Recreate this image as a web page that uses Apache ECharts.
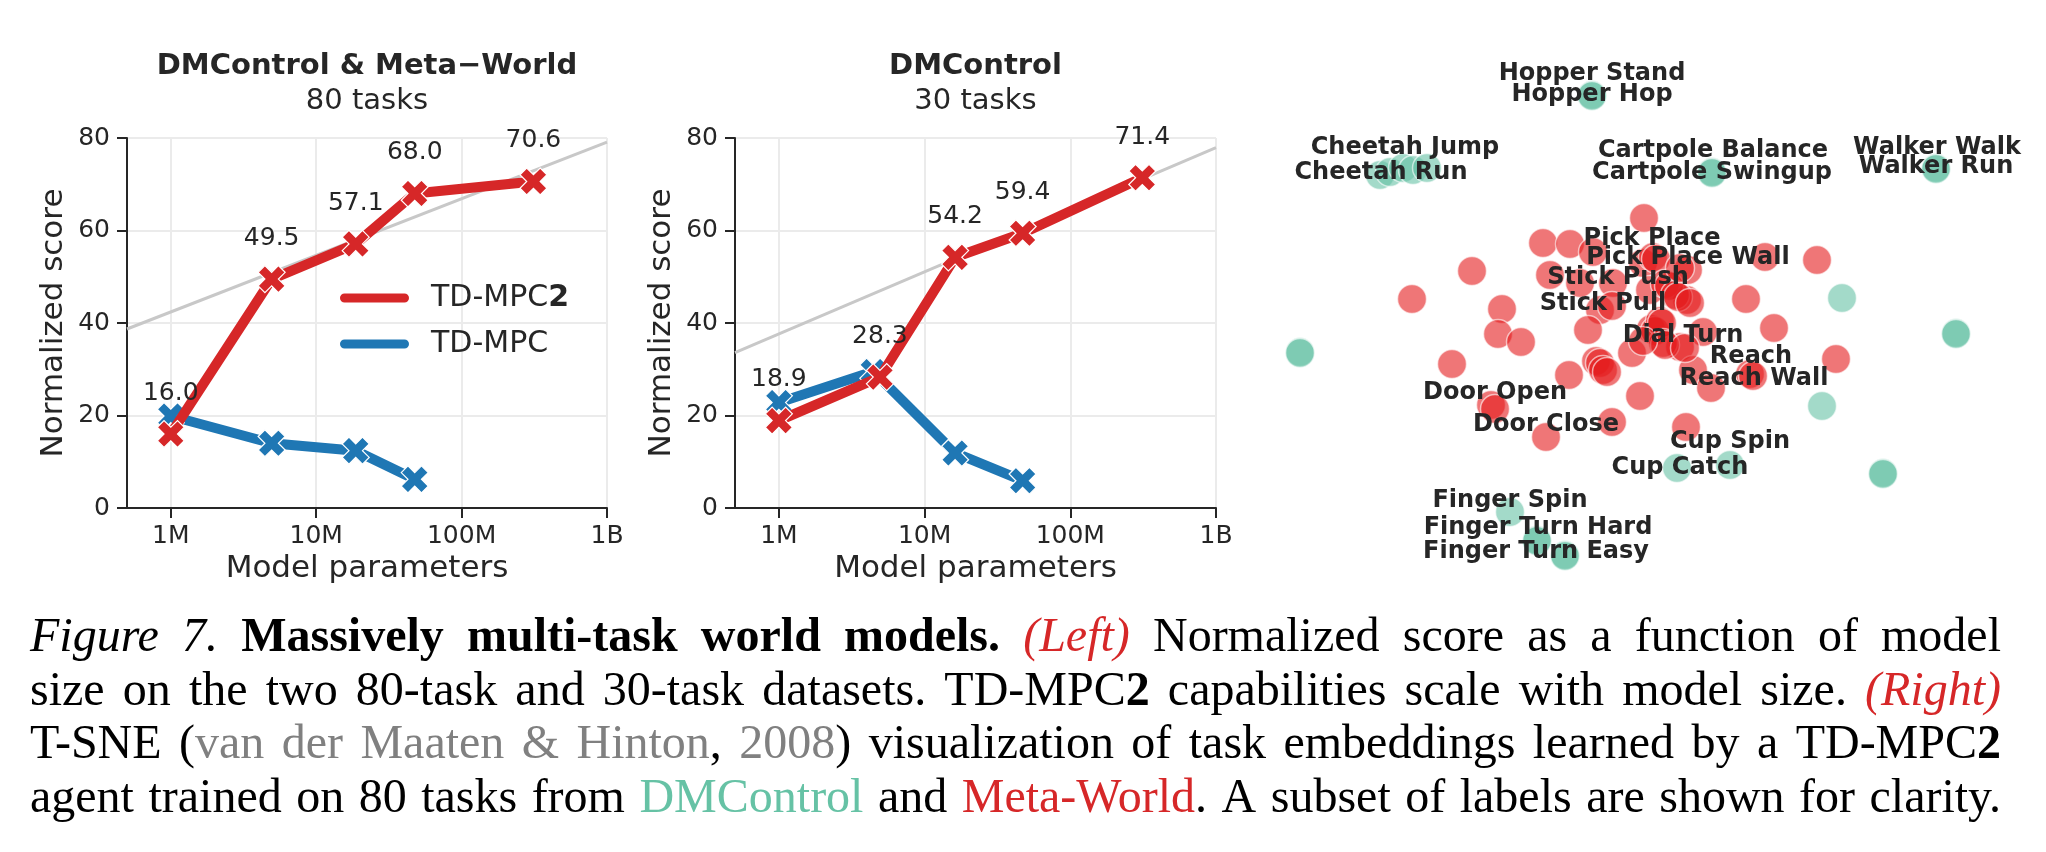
<!DOCTYPE html>
<html><head><meta charset="utf-8">
<script src="https://cdn.jsdelivr.net/npm/echarts@6/dist/echarts.min.js"></script>
<style>html,body{margin:0;padding:0;background:#fff}#c{width:2046px;height:852px}</style>
</head><body><div id="c"></div>
<script>
// ---------------- DATA ----------------
const xTickValues = [1e6, 1e7, 1e8, 1e9];
const xTickLabels = ['1M', '10M', '100M', '1B'];
const xMin = 5e5, xMax = 1e9;
const yMin = 0, yMax = 80, yStep = 20;

const panelTitles = ['DMControl & Meta\u2212World', 'DMControl'];
const panelSubtitles = ['80 tasks', '30 tasks'];
const seriesNames = ['TD-MPC2', 'TD-MPC'];

// Left panel (80 tasks)
const left_tdmpc2_params = [1.0e6, 4.94e6, 1.87e7, 4.76e7, 3.12e8];
const left_tdmpc2_scores = [16.0, 49.5, 57.1, 68.0, 70.6];
const left_tdmpc_params  = [1.0e6, 4.94e6, 1.87e7, 4.76e7];
const left_tdmpc_scores  = [19.9, 14.0, 12.4, 6.2];
const left_trend_params  = [5e5, 1e9];
const left_trend_scores  = [38.7, 79.1];

// Middle panel (30 tasks)
const mid_tdmpc2_params = [1.0e6, 4.94e6, 1.62e7, 4.71e7, 3.12e8];
const mid_tdmpc2_scores = [18.9, 28.3, 54.2, 59.4, 71.4];
const mid_tdmpc_params  = [1.0e6, 4.45e6, 1.62e7, 4.71e7];
const mid_tdmpc_scores  = [22.8, 29.5, 11.9, 5.9];
const mid_trend_params  = [5e5, 1e9];
const mid_trend_scores  = [33.6, 77.9];

// T-SNE embedding (arbitrary units)
const metaworld_x = [-1.6,-11.7,-9.0,-6.7,-18.8,-11.0,-24.8,-15.8,-8.0,-4.7,-6.0,-1.7,-0.7,-0.4,-1.0,10.5,15.7,8.6,2.8,2.7,0.5,0.9,4.3,11.4,-16.2,-13.9,-20.8,-7.2,-2.8,-6.4,-6.0,-5.7,-9.1,-2.0,-16.9,-16.5,-4.8,-11.4,-0.9,-0.5,2.0,3.3,17.6,9.0,9.3,5.1,2.6,1.5,1.8,3.0,-4.8,0.0,0.2,0.3,0.5,-1.7,2.5,-5.3,2.0];
const metaworld_y = [10.2,7.7,7.6,6.8,4.9,4.5,2.1,1.1,3.7,3.7,1.0,5.7,6.3,6.1,3.0,6.3,6.0,2.1,5.0,2.0,3.6,3.4,-1.2,-0.8,-1.4,-2.2,-4.4,-1.0,-3.3,-4.1,-4.3,-5.0,-5.5,-7.6,-8.5,-8.9,-10.2,-11.7,-0.9,-1.1,-2.7,-5.0,-3.9,-5.4,-5.6,-6.8,-10.7,2.5,2.3,1.7,1.4,-0.1,-0.3,-2.3,-2.5,-2.1,-2.8,-5.2,5.2];
const dmcontrol_x = [-6.8,-6.8,-28.0,-27.0,-25.7,-24.7,-23.3,5.2,5.2,27.6,27.6,18.2,29.6,29.6,-36.0,-36.0,16.2,22.3,22.3,1.7,7.0,-15.0,-12.3,-12.3,-9.5,-9.5];
const dmcontrol_y = [22.5,22.4,14.5,14.8,15.2,15.0,15.2,14.8,14.7,15.2,15.1,2.2,-1.3,-1.4,-3.2,-3.3,-8.6,-15.3,-15.4,-14.8,-14.5,-19.2,-22.0,-22.1,-23.5,-23.6];
const tsneLabelNames = ['Hopper Stand','Hopper Hop','Cheetah Jump','Cheetah Run','Cartpole Balance','Cartpole Swingup','Walker Walk','Walker Run','Pick Place','Pick Place Wall','Stick Push','Stick Pull','Dial Turn','Reach','Reach Wall','Door Open','Door Close','Cup Spin','Cup Catch','Finger Spin','Finger Turn Hard','Finger Turn Easy'];
const tsneLabelX = [-6.8,-6.8,-25.5,-27.9,5.3,5.2,27.7,27.6,-0.8,2.8,-4.2,-5.7,2.3,9.1,9.4,-16.5,-11.4,7.0,2.0,-15.0,-12.2,-12.4];
const tsneLabelY = [24.6,22.55,17.2,14.7,16.9,14.7,17.2,15.3,8.1,6.2,4.2,1.6,-1.6,-3.7,-5.9,-7.3,-10.5,-12.2,-14.8,-18.1,-20.8,-23.2];

// Caption runs: [text, style]
const CAPTION_LINES = [
  [['Figure 7.', 'i'], [' ', 'n'], ['Massively multi-task world models.', 'b'], [' ', 'n'], ['(Left)', 'ri'], [' Normalized score as a function of model', 'n']],
  [['size on the two 80-task and 30-task datasets. TD-MPC', 'n'], ['2', 'b'], [' capabilities scale with model size. ', 'n'], ['(Right)', 'ri']],
  [['T-SNE (', 'n'], ['van der Maaten & Hinton', 'g'], [', ', 'n'], ['2008', 'g'], [') visualization of task embeddings learned by a TD-MPC', 'n'], ['2', 'b']],
  [['agent trained on 80 tasks from ', 'n'], ['DMControl', 't'], [' and ', 'n'], ['Meta-World', 'r'], ['. A subset of labels are shown for clarity.', 'n']]
];

// ---------------- STYLE ----------------
const FONT = 'DejaVu Sans', SERIF = 'Liberation Serif';
const RED = '#d62728', BLUE = '#1f77b4', TEXT = '#262626', GRIDC = '#ebebeb';
const X_SYMBOL = 'path://M0,2.5L2.5,0L5,2.5L7.5,0L10,2.5L7.5,5L10,7.5L7.5,10L5,7.5L2.5,10L0,7.5L2.5,5Z';
const CAP_STYLES = {
  n: {style: 'normal', weight: 'normal', color: '#000'},
  i: {style: 'italic', weight: 'normal', color: '#000'},
  b: {style: 'normal', weight: 'bold', color: '#000'},
  ri: {style: 'italic', weight: 'normal', color: RED},
  g: {style: 'normal', weight: 'normal', color: '#808080'},
  t: {style: 'normal', weight: 'normal', color: '#66c2a5'},
  r: {style: 'normal', weight: 'normal', color: RED}
};
const CAP_SIZE = 48, CAP_X0 = 30, CAP_X1 = 2001, CAP_BASELINES = [651, 705, 758, 812];

function zip(a, b) { return a.map((v, i) => [v, b[i]]); }
function tickFmt(v) {
  const e = Math.log10(v), r = Math.round(e);
  if (Math.abs(e - r) > 1e-6) return '';
  const idx = xTickValues.findIndex(t => Math.abs(Math.log10(t) - r) < 1e-6);
  return idx >= 0 ? xTickLabels[idx] : '';
}
function xAxisOf(gi) {
  return {
    type: 'log', logBase: 10, gridIndex: gi, min: xMin, max: xMax,
    axisLine: {show: true, onZero: false, lineStyle: {color: TEXT, width: 2}},
    axisTick: {show: true, length: 10, customValues: xTickValues, lineStyle: {color: TEXT, width: 2}},
    axisLabel: {show: true, margin: 16, customValues: xTickValues, formatter: tickFmt, fontSize: 25, fontFamily: FONT, color: TEXT, showMaxLabel: true, showMinLabel: true},
    splitLine: {show: true, lineStyle: {color: GRIDC, width: 2}},
    minorTick: {show: false}, minorSplitLine: {show: false},
    name: 'Model parameters', nameLocation: 'middle', nameGap: 45,
    nameTextStyle: {fontSize: 31, fontFamily: FONT, color: TEXT}
  };
}
function yAxisOf(gi) {
  return {
    type: 'value', gridIndex: gi, min: yMin, max: yMax, interval: yStep,
    axisLine: {show: true, onZero: false, lineStyle: {color: TEXT, width: 2}},
    axisTick: {show: true, length: 10, lineStyle: {color: TEXT, width: 2}},
    axisLabel: {show: true, margin: 17, fontSize: 25, fontFamily: FONT, color: TEXT},
    splitLine: {show: true, lineStyle: {color: GRIDC, width: 2}},
    name: 'Normalized score', nameLocation: 'middle', nameGap: 58,
    nameTextStyle: {fontSize: 31, fontFamily: FONT, color: TEXT}
  };
}
function trendSeries(gi, xs, ys) {
  return {type: 'line', xAxisIndex: gi, yAxisIndex: gi, data: zip(xs, ys), symbol: 'none', silent: true,
    lineStyle: {color: '#c8c8c8', width: 3}, z: 1};
}
function modelSeries(gi, name, color, xs, ys, withLabels) {
  return {
    type: 'line', name, xAxisIndex: gi, yAxisIndex: gi, data: zip(xs, ys),
    color, symbol: X_SYMBOL, symbolSize: 27, showSymbol: true, showAllSymbol: true,
    lineStyle: {color, width: 10, cap: 'round', join: 'round'},
    itemStyle: {color, borderColor: '#fff', borderWidth: 1.2},
    label: withLabels ? {show: true, position: 'top', distance: 14, fontSize: 25, lineHeight: 25,
      fontFamily: FONT, color: TEXT, formatter: p => p.value[1].toFixed(1)} : {show: false},
    emphasis: {disabled: true}, z: name === 'TD-MPC2' ? 4 : 3
  };
}

// ---------------- CAPTION LAYOUT ----------------
function capFont(st) { const s = CAP_STYLES[st]; return `${s.style} ${s.weight} ${CAP_SIZE}px "${SERIF}"`; }
function buildCaption() {
  const ctx = document.createElement('canvas').getContext('2d');
  ctx.font = capFont('n');
  ctx.textBaseline = 'alphabetic';
  const a1 = ctx.measureText('H').actualBoundingBoxAscent;
  ctx.textBaseline = 'middle';
  const a2 = ctx.measureText('H').actualBoundingBoxAscent;
  const midOff = a1 - a2;
  ctx.textBaseline = 'alphabetic';
  const els = [];
  CAPTION_LINES.forEach((runs, li) => {
    const words = []; let cur = [];
    runs.forEach(([text, st]) => {
      text.split(' ').forEach((p, i) => {
        if (i > 0 && cur.length) { words.push(cur); cur = []; }
        if (p) cur.push({t: p, st});
      });
    });
    if (cur.length) words.push(cur);
    let total = 0;
    words.forEach(w => {
      w.forEach(pc => { ctx.font = capFont(pc.st); pc.w = ctx.measureText(pc.t).width; });
      w.width = w.reduce((s, pc) => s + pc.w, 0); total += w.width;
    });
    const gap = (CAP_X1 - CAP_X0 - total) / (words.length - 1);
    let x = CAP_X0;
    const y = CAP_BASELINES[li] - midOff;
    words.forEach(w => {
      let px = x;
      w.forEach(pc => {
        els.push({type: 'text', x: px, y, silent: true,
          style: {text: pc.t, font: capFont(pc.st), fill: CAP_STYLES[pc.st].color,
            textAlign: 'left', textVerticalAlign: 'middle', verticalAlign: 'middle'}});
        px += pc.w;
      });
      x += w.width + gap;
    });
  });
  return els;
}

// ---------------- CHART ----------------
const chart = echarts.init(document.getElementById('c'), null, {renderer: 'canvas', width: 2046, height: 852});
const titleEls = [];
[[367, 0], [975.5, 1]].forEach(([cx, i]) => {
  titleEls.push({type: 'text', x: cx, y: 66, silent: true, style: {text: panelTitles[i], font: `bold 29px "${FONT}"`, fill: TEXT, textAlign: 'center', textVerticalAlign: 'middle', verticalAlign: 'middle'}});
  titleEls.push({type: 'text', x: cx, y: 101, silent: true, style: {text: panelSubtitles[i], font: `normal 29px "${FONT}"`, fill: TEXT, textAlign: 'center', textVerticalAlign: 'middle', verticalAlign: 'middle'}});
});

const tsneAxisX = {type: 'value', gridIndex: 2, min: -38, max: 38, show: false, splitLine: {show: false}};
const tsneAxisY = {type: 'value', gridIndex: 2, min: -27, max: 27, show: false, splitLine: {show: false}};

const baseGraphic = titleEls.concat(buildCaption());
const option = {
  backgroundColor: '#fff',
  animation: false,
  textStyle: {fontFamily: FONT},
  grid: [
    {left: 127, top: 138, width: 480, height: 370},
    {left: 735, top: 138, width: 481, height: 370},
    {left: 1280, top: 50, width: 760, height: 540}
  ],
  xAxis: [xAxisOf(0), xAxisOf(1), tsneAxisX],
  yAxis: [yAxisOf(0), yAxisOf(1), tsneAxisY],
  legend: {
    data: seriesNames, orient: 'vertical', left: 333, top: 278, itemWidth: 71, itemHeight: 11, itemGap: 16,
    icon: 'path://M5.5,0L65.5,0A5.5,5.5,0,0,1,65.5,11L5.5,11A5.5,5.5,0,0,1,5.5,0Z', selectedMode: false,
    formatter: n => n === 'TD-MPC2' ? '{n|TD-MPC}{b|2}' : '{n|' + n + '}',
    textStyle: {fontSize: 30, lineHeight: 30, color: TEXT, fontFamily: FONT, padding: [0, 0, 0, 16],
      rich: {n: {fontSize: 30, lineHeight: 30, color: TEXT, fontFamily: FONT},
             b: {fontSize: 30, lineHeight: 30, color: TEXT, fontFamily: FONT, fontWeight: 'bold'}}}
  },
  series: [
    trendSeries(0, left_trend_params, left_trend_scores),
    modelSeries(0, 'TD-MPC', BLUE, left_tdmpc_params, left_tdmpc_scores, false),
    modelSeries(0, 'TD-MPC2', RED, left_tdmpc2_params, left_tdmpc2_scores, true),
    trendSeries(1, mid_trend_params, mid_trend_scores),
    modelSeries(1, 'TD-MPC', BLUE, mid_tdmpc_params, mid_tdmpc_scores, false),
    modelSeries(1, 'TD-MPC2', RED, mid_tdmpc2_params, mid_tdmpc2_scores, true),
    {type: 'scatter', name: 'Meta-World', xAxisIndex: 2, yAxisIndex: 2, data: zip(metaworld_x, metaworld_y),
      symbol: 'circle', symbolSize: 29, silent: true,
      itemStyle: {color: '#e41a1c', opacity: 0.6, borderColor: '#fff', borderWidth: 1.5}, z: 2},
    {type: 'scatter', name: 'DMControl', xAxisIndex: 2, yAxisIndex: 2, data: zip(dmcontrol_x, dmcontrol_y),
      symbol: 'circle', symbolSize: 29, silent: true,
      itemStyle: {color: '#66c2a5', opacity: 0.6, borderColor: '#fff', borderWidth: 1.5}, z: 2}
  ],
  graphic: baseGraphic
};
chart.setOption(option);

// T-SNE task labels, placed through the scatter grid's own axes
const labelEls = tsneLabelNames.map((n, i) => {
  const p = chart.convertToPixel({xAxisIndex: 2, yAxisIndex: 2}, [tsneLabelX[i], tsneLabelY[i]]);
  return {type: 'text', x: p[0], y: p[1], silent: true, z: 100,
    style: {text: n, font: `bold 24px "${FONT}"`, fill: TEXT, textAlign: 'center', textVerticalAlign: 'middle', verticalAlign: 'middle'}};
});
chart.setOption({graphic: baseGraphic.concat(labelEls)});
</script></body></html>
